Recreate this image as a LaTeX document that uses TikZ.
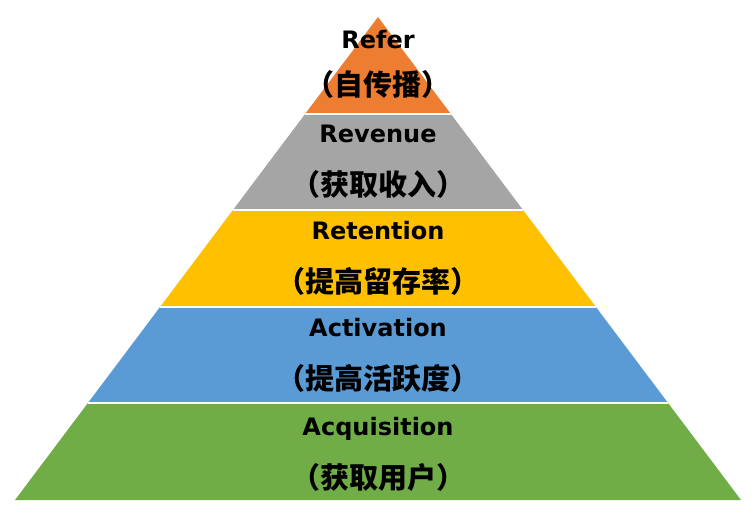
\documentclass[tikz,border=0pt]{standalone}
\usepackage{fontspec}
\setmainfont{DejaVu Sans}
\newfontfamily\cjk{Noto Sans CJK SC}
\definecolor{referorange}{RGB}{237, 125, 49}
\definecolor{revgray}{RGB}{165, 165, 165}
\definecolor{retyellow}{RGB}{255, 192, 0}
\definecolor{actblue}{RGB}{91, 155, 213}
\definecolor{acqgreen}{RGB}{112, 173, 71}
\usetikzlibrary{calc}
\newcommand{\zh}[1]{{\cjk\bfseries\fontsize{29}{53}\selectfont #1}}

\begin{document}
\begin{tikzpicture}[x=1pt, y=-1pt,
  layerlabel/.style={font=\bfseries\fontsize{24}{53}\selectfont, align=center, inner sep=0pt},
  sep/.style={white, line width=2pt},
]
\useasboundingbox (0, 0) rectangle (756, 517);

% Pyramid outline
\coordinate (apex) at (378, 17);
\coordinate (bl) at (15, 500);
\coordinate (br) at (741, 500);
\foreach \i/\t in {1/0.2, 2/0.4, 3/0.6, 4/0.8} {
  \coordinate (l\i) at ($(apex)!\t!(bl)$);
  \coordinate (r\i) at ($(apex)!\t!(br)$);
}

% Layers
\fill[referorange] (apex) -- (r1) -- (l1) -- cycle;
\fill[revgray] (l1) -- (r1) -- (r2) -- (l2) -- cycle;
\fill[retyellow] (l2) -- (r2) -- (r3) -- (l3) -- cycle;
\fill[actblue] (l3) -- (r3) -- (r4) -- (l4) -- cycle;
\fill[acqgreen] (l4) -- (r4) -- (br) -- (bl) -- cycle;

% White gaps between layers
\draw[sep] (l1) -- (r1);
\draw[sep] (l2) -- (r2);
\draw[sep] (l3) -- (r3);
\draw[sep] (l4) -- (r4);

% Labels
\node[layerlabel, font=\bfseries\fontsize{24}{47}\selectfont] (refer) at (378, 64)
  {Refer\\{\cjk\bfseries\fontsize{29}{47}\selectfont （自传播）}};
\node[layerlabel] (revenue) at (378, 162) {Revenue\\\zh{（获取收入）}};
\node[layerlabel] (retention) at (378, 258.5) {Retention\\\zh{（提高留存率）}};
\node[layerlabel] (activation) at (378, 355) {Activation\\\zh{（提高活跃度）}};
\node[layerlabel] (acquisition) at (378, 454) {Acquisition\\\zh{（获取用户）}};
\end{tikzpicture}
\end{document}
